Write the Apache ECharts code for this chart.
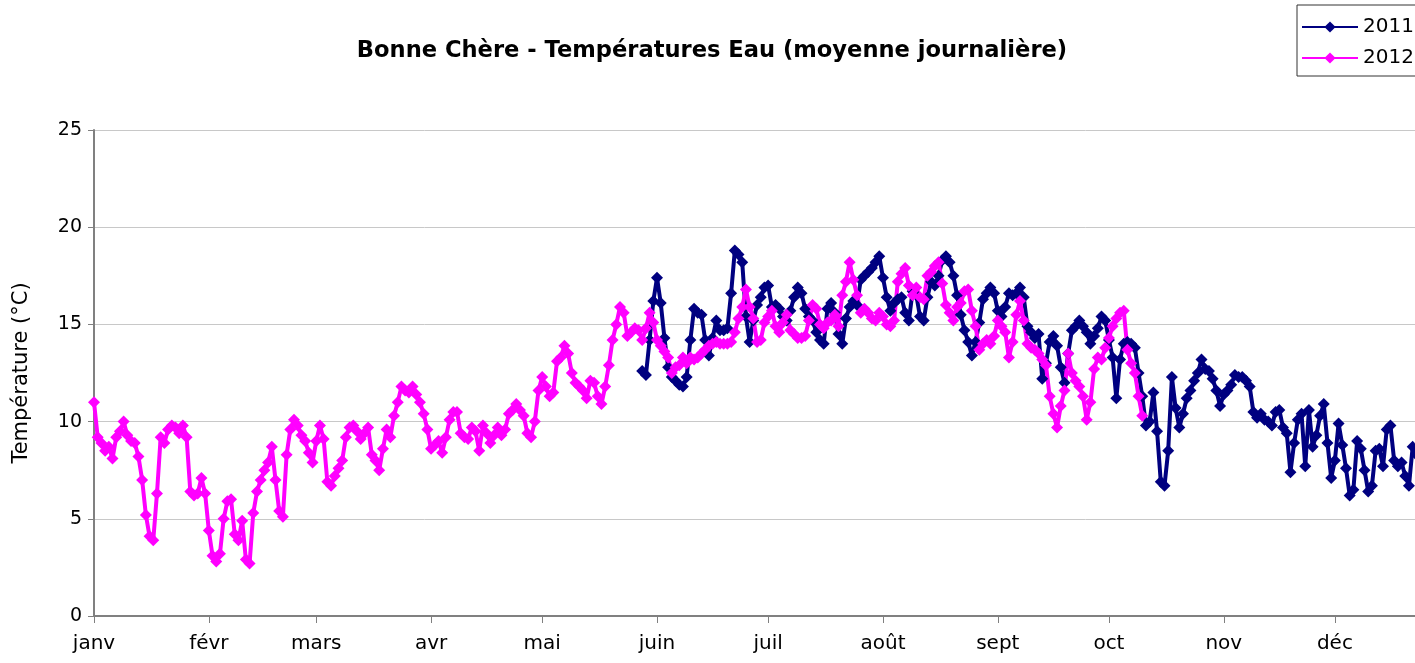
<!DOCTYPE html>
<html>
<head>
<meta charset="utf-8">
<title>Bonne Chère - Températures Eau</title>
<script src="https://cdn.jsdelivr.net/npm/echarts@6/dist/echarts.min.js"></script>
<style>
  html, body { margin: 0; padding: 0; background: #fff; overflow: hidden; }
  #chart { width: 1415px; height: 663px; }
</style>
</head>
<body>
<div id="chart"></div>
<script>
// mois affichés sur l'axe x
const monthLabels = ["janv", "févr", "mars", "avr", "mai", "juin", "juil", "août", "sept", "oct", "nov", "déc"]
// jour (index dans l'année) du 1er de chaque mois
const monthStart = [0, 31, 60, 91, 121, 152, 182, 213, 244, 274, 305, 335]
const dayCount = 366
const yTicks = [0, 5, 10, 15, 20, 25]

// 2012 : du 1er janvier (jour 0) au 10 octobre
const t2012 = [
  11.0, 9.2, 8.9, 8.5, 8.7, 8.1, 9.2, 9.5, 10.0, 9.3, 9.0, 8.9, 8.2, 7.0, 5.2, 4.1, 3.9, 6.3, 9.2, 8.9, 9.6, 9.8, 9.7, 9.4, 9.8, 9.2, 6.4, 6.2, 6.3, 7.1, 6.3,
  4.4, 3.1, 2.8, 3.2, 5.0, 5.9, 6.0, 4.2, 3.9, 4.9, 2.9, 2.7, 5.3, 6.4, 7.0, 7.5, 7.9, 8.7, 7.0, 5.4, 5.1, 8.3, 9.6, 10.1, 9.8, 9.3, 9.0, 8.4, 7.9,
  9.0, 9.8, 9.1, 6.9, 6.7, 7.2, 7.6, 8.0, 9.2, 9.7, 9.8, 9.5, 9.1, 9.4, 9.7, 8.3, 8.0, 7.5, 8.6, 9.6, 9.2, 10.3, 11.0, 11.8, 11.6, 11.5, 11.8, 11.4, 11.0, 10.4, 9.6,
  8.6, 8.8, 9.0, 8.4, 9.2, 10.1, 10.5, 10.5, 9.4, 9.2, 9.1, 9.7, 9.5, 8.5, 9.8, 9.4, 8.9, 9.3, 9.7, 9.3, 9.6, 10.4, 10.6, 10.9, 10.6, 10.3, 9.4, 9.2, 10.0, 11.6,
  12.3, 11.8, 11.3, 11.5, 13.1, 13.3, 13.9, 13.5, 12.5, 12.0, 11.8, 11.6, 11.2, 12.1, 12.0, 11.3, 10.9, 11.8, 12.9, 14.2, 15.0, 15.9, 15.6, 14.4, 14.6, 14.8, 14.7, 14.2, 14.8, 15.6, 15.1,
  14.2, 13.9, 13.6, 13.3, 12.5, 12.8, 12.9, 13.3, 13.0, 13.3, 13.2, 13.3, 13.5, 13.7, 13.9, 14.0, 14.1, 14.0, 14.0, 14.0, 14.1, 14.6, 15.3, 15.9, 16.8, 15.9, 15.3, 14.1, 14.2, 15.1,
  15.4, 15.7, 14.9, 14.6, 15.1, 15.5, 14.7, 14.5, 14.3, 14.3, 14.4, 15.2, 16.0, 15.8, 15.0, 14.8, 15.1, 15.2, 15.5, 14.9, 16.5, 17.2, 18.2, 17.3, 16.5, 15.6, 15.8, 15.6, 15.3, 15.2, 15.6,
  15.4, 15.0, 14.9, 15.2, 17.2, 17.6, 17.9, 17.0, 16.5, 16.9, 16.4, 16.3, 17.5, 17.7, 18.0, 18.2, 17.1, 16.0, 15.6, 15.2, 15.9, 16.1, 16.7, 16.8, 15.7, 14.9, 13.7, 14.0, 14.2, 14.0, 14.4,
  15.2, 14.9, 14.6, 13.3, 14.1, 15.5, 16.2, 15.2, 14.0, 13.8, 13.7, 13.5, 13.2, 12.9, 11.3, 10.4, 9.7, 10.8, 11.6, 13.5, 12.5, 12.1, 11.8, 11.3, 10.1, 11.0, 12.7, 13.3, 13.2, 13.8,
  14.3, 14.9, 15.3, 15.6, 15.7, 13.7, 13.0, 12.5, 11.3, 10.3
]

// 2011 : à partir du 28 mai (jour 148)
const start2011 = 148
const t2011 = [
  12.6, 12.4, 14.2, 16.2,
  17.4, 16.1, 14.3, 12.8, 12.3, 12.1, 11.9, 11.8, 12.3, 14.2, 15.8, 15.6, 15.5, 14.2, 13.4, 14.3, 15.2, 14.7, 14.7, 14.8, 16.6, 18.8, 18.6, 18.2, 15.4, 14.1, 15.2, 16.0, 16.4, 16.9,
  17.0, 15.9, 16.0, 15.8, 15.4, 15.2, 15.7, 16.4, 16.9, 16.6, 15.8, 15.4, 15.2, 14.6, 14.2, 14.0, 15.8, 16.1, 15.6, 14.5, 14.0, 15.3, 15.9, 16.2, 16.0, 17.3, 17.5, 17.7, 17.9, 18.2, 18.5,
  17.4, 16.4, 15.7, 16.1, 16.3, 16.4, 15.6, 15.2, 16.7, 16.5, 15.4, 15.2, 16.4, 17.2, 17.0, 17.5, 18.3, 18.5, 18.2, 17.5, 16.5, 15.5, 14.7, 14.1, 13.4, 14.1, 15.1, 16.3, 16.6, 16.9, 16.6,
  15.7, 15.4, 15.9, 16.6, 16.5, 16.6, 16.9, 16.4, 14.9, 14.6, 14.3, 14.5, 12.2, 13.0, 14.1, 14.4, 13.9, 12.8, 12.0, 13.5, 14.7, 14.9, 15.2, 14.9, 14.6, 14.0, 14.4, 14.8, 15.4, 15.2,
  14.2, 13.3, 11.2, 13.2, 14.0, 14.1, 14.0, 13.8, 12.5, 11.3, 9.8, 10.0, 11.5, 9.5, 6.9, 6.7, 8.5, 12.3, 10.7, 9.7, 10.4, 11.2, 11.6, 12.1, 12.5, 13.2, 12.7, 12.6, 12.2, 11.6, 10.8,
  11.4, 11.6, 11.9, 12.4, 12.3, 12.3, 12.1, 11.8, 10.5, 10.2, 10.4, 10.1, 10.0, 9.8, 10.5, 10.6, 9.7, 9.4, 7.4, 8.9, 10.1, 10.4, 7.7, 10.6, 8.7, 9.3, 10.3, 10.9, 8.9, 7.1,
  8.0, 9.9, 8.8, 7.6, 6.2, 6.5, 9.0, 8.6, 7.5, 6.4, 6.7, 8.5, 8.6, 7.7, 9.6, 9.8, 8.0, 7.7, 7.9, 7.2, 6.7, 8.7, 8.3
]

let days = []
for (let i = 0; i < dayCount; i++) days.push(String(i))

let data2011 = new Array(start2011).fill(null).concat(t2011)
let data2012 = t2012.slice()

const font = "DejaVu Sans, sans-serif"
let myChart = echarts.init(document.getElementById("chart"))
myChart.setOption({
  animation: false,
  backgroundColor: "#fff",
  title: {
    text: "Bonne Chère - Températures Eau (moyenne journalière)",
    left: 707,
    top: 35,
    textAlign: "center",
    textStyle: { fontFamily: font, fontSize: 22.6, fontWeight: "bold", color: "#000" },
  },
  legend: {
    data: ["2011", "2012"],
    orient: "vertical",
    left: 1297,
    top: 5,
    itemWidth: 56,
    itemHeight: 14,
    itemGap: 11,
    padding: [12, 40, 8, 4],
    borderColor: "#333",
    borderWidth: 1,
    textStyle: { fontFamily: font, fontSize: 20, color: "#000" },
  },
  // la zone de tracé déborde à droite : décembre est coupé comme sur l'original
  grid: {
    left: 94,
    width: 1352,
    top: 130,
    bottom: 47,
    outerBoundsMode: "none",
  },
  xAxis: {
    type: "category",
    data: days,
    boundaryGap: false,
    axisLine: { lineStyle: { color: "#808080", width: 2 } },
    axisTick: {
      show: true,
      length: 7,
      interval: (index) => monthStart.includes(index),
      lineStyle: { color: "#808080" },
    },
    axisLabel: {
      interval: (index) => monthStart.includes(index),
      formatter: (value) => monthLabels[monthStart.indexOf(Number(value))] || "",
      margin: 18,
      fontFamily: font,
      fontSize: 20,
      color: "#000",
    },
    splitLine: { show: false },
  },
  yAxis: {
    type: "value",
    min: yTicks[0],
    max: yTicks[yTicks.length - 1],
    interval: 5,
    name: "Température (°C)",
    nameLocation: "middle",
    nameGap: 62,
    nameRotate: 90,
    nameTextStyle: { fontFamily: font, fontSize: 21, color: "#000" },
    axisLine: { show: true, lineStyle: { color: "#808080", width: 2 } },
    axisTick: { show: true, length: 6, lineStyle: { color: "#808080" } },
    axisLabel: { margin: 12, fontFamily: font, fontSize: 19, color: "#000" },
    splitLine: { lineStyle: { color: "#c8c8c8", width: 1 } },
  },
  series: [
    {
      name: "2011",
      type: "line",
      data: data2011,
      symbol: "diamond",
      symbolSize: 12,
      showAllSymbol: true,
      connectNulls: false,
      color: "#000080",
      lineStyle: { width: 4, color: "#000080" },
      itemStyle: { color: "#000080" },
    },
    {
      name: "2012",
      type: "line",
      data: data2012,
      symbol: "diamond",
      symbolSize: 12,
      showAllSymbol: true,
      connectNulls: false,
      color: "#ff00ff",
      lineStyle: { width: 4, color: "#ff00ff" },
      itemStyle: { color: "#ff00ff" },
    },
  ],
})
</script>
</body>
</html>
